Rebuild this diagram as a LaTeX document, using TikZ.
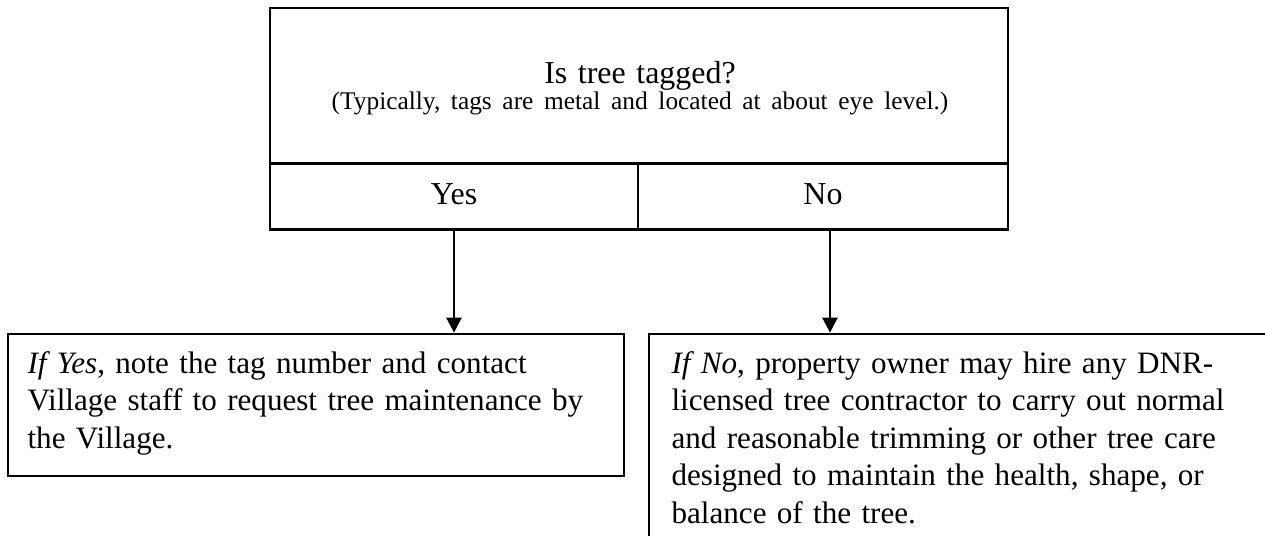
\documentclass[tikz,border=0pt]{standalone}
\usepackage{fontspec}
\setmainfont{Liberation Serif}
\usetikzlibrary{arrows.meta}
\newcommand{\PX}{0.36641pt}
\begin{document}
\begin{tikzpicture}[x=0.36641pt,y=-0.36641pt,
  frame/.style={draw=black,line width=1pt,rectangle,inner sep=0pt,anchor=center},
  txt/.style={inner sep=0pt,align=left,font={\fontsize{11.4}{13.74}\selectfont\hyphenpenalty=10000}},
  cell/.style={frame,font=\fontsize{11.7}{13.74}\selectfont,text height=8.3pt,text depth=2.5pt},
  arr/.style={draw=black,line width=0.9pt,-{Triangle[length=5.5pt,width=5.5pt]}}]
\useasboundingbox (0,0) rectangle (1265,535);
\clip (0,0) rectangle (1265,535);
% top decision box
\node[frame,minimum width=738*\PX,minimum height=155.3*\PX] (q) at (639,85.65) {};
\node[inner sep=0pt,anchor=base,text width=720*\PX,align=center,
      font={\fontsize{11.7}{9.78}\selectfont\lineskiplimit=-20pt\hyphenpenalty=10000}] (qt) at (640,83.3)
  {Is tree tagged?\\{\fontsize{9.3}{9.78}\selectfont (Typically, tags are metal and located at about eye level.)}};
\node[cell,minimum width=368*\PX,minimum height=66*\PX] (yes) at (454,196.3) {Yes};
\node[cell,minimum width=370*\PX,minimum height=66*\PX] (no) at (823,196.3) {No};
% answer boxes
\node[frame,minimum width=616*\PX,minimum height=142*\PX] (yesans) at (316,405) {};
\node[txt,anchor=base west,text width=650*\PX] (yestxt) at (27,373.3)
  {\textit{If Yes}, note the tag number and contact\\
   Village staff to request tree maintenance by\\
   the Village.};
\node[frame,minimum width=660*\PX,minimum height=260*\PX] (noans) at (979,464) {};
\node[txt,anchor=base west,text width=650*\PX] (notxt) at (671,373.3)
  {\textit{If No}, property owner may hire any DNR-\\
   licensed tree contractor to carry out normal\\
   and reasonable trimming or other tree care\\
   designed to maintain the health, shape, or\\
   balance of the tree.};
% connectors
\draw[arr] (yes.south) -- (yes.south |- yesans.north);
\coordinate (nstart) at (830,229.3);
\draw[arr] (nstart) -- (nstart |- noans.north);
\end{tikzpicture}
\end{document}
